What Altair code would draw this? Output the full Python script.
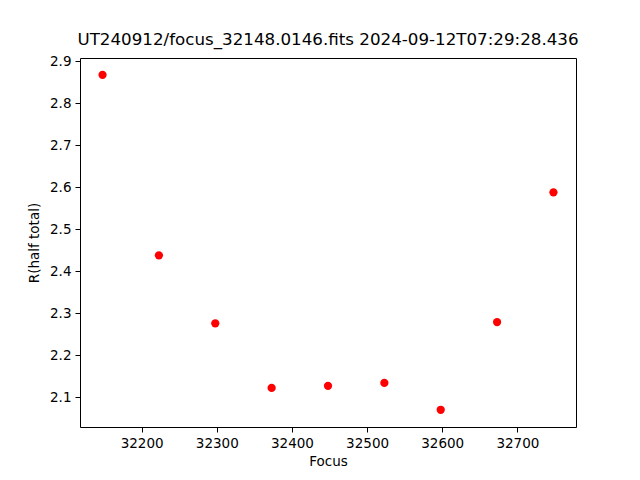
import altair as alt
import pandas as pd

focus = [32148, 32223, 32298, 32373, 32448, 32523, 32598, 32673, 32748]
r_half = [2.868, 2.438, 2.276, 2.122, 2.127, 2.134, 2.070, 2.279, 2.588]
x_ticks = [32200, 32300, 32400, 32500, 32600, 32700]
y_ticks = [2.1, 2.2, 2.3, 2.4, 2.5, 2.6, 2.7, 2.8, 2.9]

df = pd.DataFrame({"Focus": focus, "R": r_half})

font = "DejaVu Sans"

chart = alt.Chart(df).mark_circle(color="#ff0000", size=68, opacity=1).encode(
    x=alt.X("Focus:Q",
            scale=alt.Scale(domain=[32118, 32778], nice=False, zero=False),
            axis=alt.Axis(values=x_ticks, format="d", title="Focus")),
    y=alt.Y("R:Q",
            scale=alt.Scale(domain=[2.029, 2.908], nice=False, zero=False),
            axis=alt.Axis(values=y_ticks, format=".1f", title="R(half total)")),
).properties(
    width=496,
    height=369,
    title=alt.TitleParams("UT240912/focus_32148.0146.fits 2024-09-12T07:29:28.436",
                          font=font, fontSize=16.7, fontWeight="normal",
                          color="black", anchor="middle", offset=6),
    autosize=alt.AutoSizeParams(type="none"),
    padding={"left": 72, "top": 50, "right": 40, "bottom": 50},
).configure_view(
    stroke="black", strokeWidth=1, fill="white"
).configure_axis(
    grid=False,
    domain=False,
    tickColor="black",
    tickSize=5,
    tickWidth=1,
    labelFont=font,
    labelFontSize=13.5,
    labelColor="black",
    labelPadding=4,
    titleFont=font,
    titleFontSize=13.5,
    titleFontWeight="normal",
    titleColor="black",
).configure_axisX(
    titlePadding=5,
).configure_axisY(
    titlePadding=8,
)

chart.save("out.html", embed_options={"renderer": "svg", "actions": False})
